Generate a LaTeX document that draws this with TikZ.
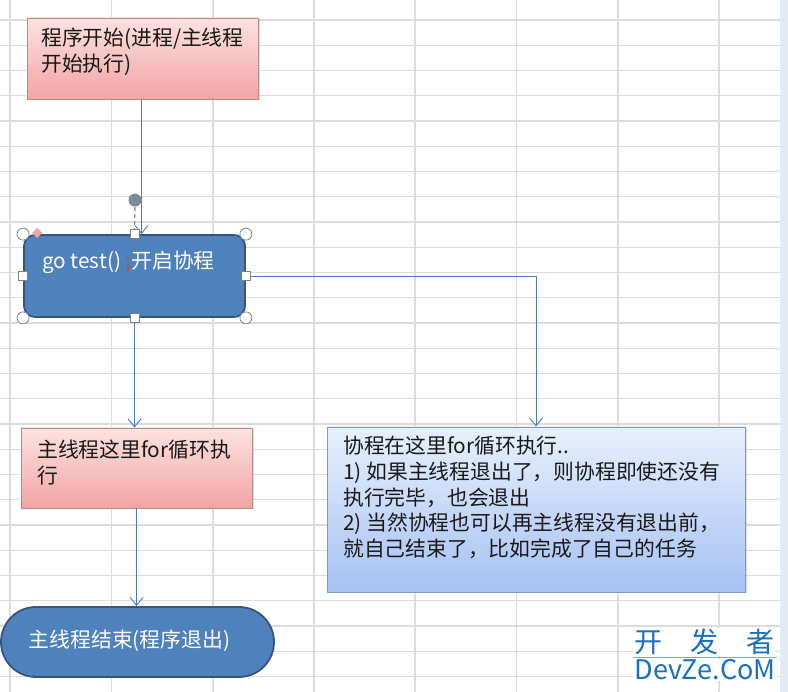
\documentclass[tikz,border=0pt]{standalone}
\usepackage{fontspec}
\newfontfamily\cjk{Noto Sans CJK SC}
\usetikzlibrary{arrows.meta,shadows,calc}
\definecolor{gridc}{HTML}{DCDCDC}
\definecolor{stripc}{HTML}{E4EAF4}
\definecolor{pinktop}{HTML}{FDE2E2}
\definecolor{pinkbot}{HTML}{F3A4A4}
\definecolor{pinkborder}{HTML}{B48A8A}
\definecolor{bluefill}{HTML}{4F81BD}
\definecolor{blueborder}{HTML}{35547E}
\definecolor{lbtop}{HTML}{E8F0FD}
\definecolor{lbbot}{HTML}{A6C1F3}
\definecolor{lbborder}{HTML}{7D97C2}
\definecolor{arrowc}{HTML}{4A7EBB}
\definecolor{handlec}{HTML}{808080}
\definecolor{rotc}{HTML}{7F8896}
\definecolor{diamc}{HTML}{F2A3A3}
\definecolor{wmc}{HTML}{1C6EC0}
\definecolor{cursorc}{HTML}{B0504A}
\tikzset{
  gridline/.style={draw=gridc, line width=1.3pt},
  pinkbox/.style={rectangle, draw=pinkborder, line width=0.9pt, top color=pinktop, bottom color=pinkbot, inner sep=0pt,
    drop shadow={opacity=0.25, shadow xshift=1.5pt, shadow yshift=-1.5pt}},
  bluebox/.style={rectangle, draw=blueborder, line width=1.8pt, fill=bluefill, inner sep=0pt},
  notebox/.style={rectangle, draw=lbborder, line width=0.9pt, top color=lbtop, bottom color=lbbot, inner sep=0pt,
    drop shadow={opacity=0.25, shadow xshift=1.5pt, shadow yshift=-1.5pt}},
  darktxt/.style={inner sep=0pt, align=left, text=black!90, font=\cjk\fontsize{20.8}{26}\selectfont},
  lighttxt/.style={inner sep=0pt, align=left, text=white, font=\cjk\fontsize{20.8}{26}\selectfont},
  arr/.style={draw=arrowc, line width=0.9pt, -{Straight Barb[length=8pt,width=13pt,line width=0.9pt]}},
  handle/.style={draw=handlec, fill=white, line width=0.8pt},
  wm/.style={inner sep=1pt, fill=white, text=wmc}
}
\begin{document}
\begin{tikzpicture}[x=1pt,y=-1pt]
\useasboundingbox (0,0) rectangle (788,692);
\fill[white] (0,0) rectangle (788,692);
\fill[stripc] (780,0) rectangle (788,692);
% spreadsheet grid
\foreach \x in {10,111.5,213,314,415,516.5,618,719}
  \draw[gridline] (\x,0) -- (\x,692);
\foreach \k in {0,...,26}
  \draw[gridline] (0,20+25.25*\k) -- (780,20+25.25*\k);

% shapes
\node[pinkbox, minimum width=231pt, minimum height=81pt] (start) at (142.5,58.5) {};
\node[darktxt, anchor=north west] (starttxt) at (41,28) {程序开始(进程/主线程\\开始执行)};

\node[bluebox, rounded corners=11pt, minimum width=221pt, minimum height=82pt] (go) at (134.5,276) {};
\node[lighttxt, anchor=north west] (gotxt) at (42,251) {go test() \textcolor{cursorc}{;}开启协程};

\node[pinkbox, minimum width=231pt, minimum height=80pt] (main) at (136.5,468) {};
\node[darktxt, anchor=north west] (maintxt) at (37,440) {主线程这里for循环执\\行};

\node[bluebox, rounded corners=35pt, minimum width=273pt, minimum height=70pt] (end) at (137.5,642) {};
\node[lighttxt, anchor=center] (endtxt) at (129.5,641) {主线程结束(程序退出)};

\node[notebox, minimum width=418pt, minimum height=165pt] (note) at (536,509.5) {};
\node[darktxt, anchor=north west, font=\cjk\fontsize{20.8}{25.7}\selectfont] (notetxt) at (343,436)
  {协程在这里for循环执行..\\1) 如果主线程退出了，则协程即使还没有\\执行完毕，也会退出\\2) 当然协程也可以再主线程没有退出前，\\就自己结束了，比如完成了自己的任务};

% connectors
\draw[arr] ($(start.south)+(-1,0)$) -- ($(start.south |- go.north)+(-1,0)$);
\draw[arr] (go.south) -- (go.south |- main.north);
\draw[arr] (main.south) -- (main.south |- end.north);
\draw[arr] (go.east) -| (note.north);

% selection handles on the "go" shape
\coordinate (rot) at ($(go.north)+(0.5,-34)$);
\draw[rotc, line width=1.2pt, dash pattern=on 4pt off 3pt] ($(rot)+(0,7)$) -- ($(go.north)+(0,-5)$);
\fill[rotc] (rot) circle[radius=6.5pt];
\fill[diamc] ($(go.north west)+(14,-6)$) -- ++(5,5) -- ++(-5,5) -- ++(-5,-5) -- cycle;
\foreach \a in {north west,north east,south west,south east}
  \draw[handle] (go.\a) circle[radius=6pt];
\foreach \a in {north,south,west,east}
  \draw[handle] ($(go.\a)+(-4.5,-4.5)$) rectangle ($(go.\a)+(4.5,4.5)$);

% watermark
\node[wm, font=\cjk\fontsize{28}{28}\selectfont] (wm1) at (704,642) {开\hspace{1em}发\hspace{1em}者};
\node[wm, font=\cjk\fontsize{27}{27}\selectfont] (wm2) at (705,670) {DevZe.CoM};
\draw[wmc!60, line width=0.6pt] (633,657.5) -- (777,657.5);
\end{tikzpicture}
\end{document}
